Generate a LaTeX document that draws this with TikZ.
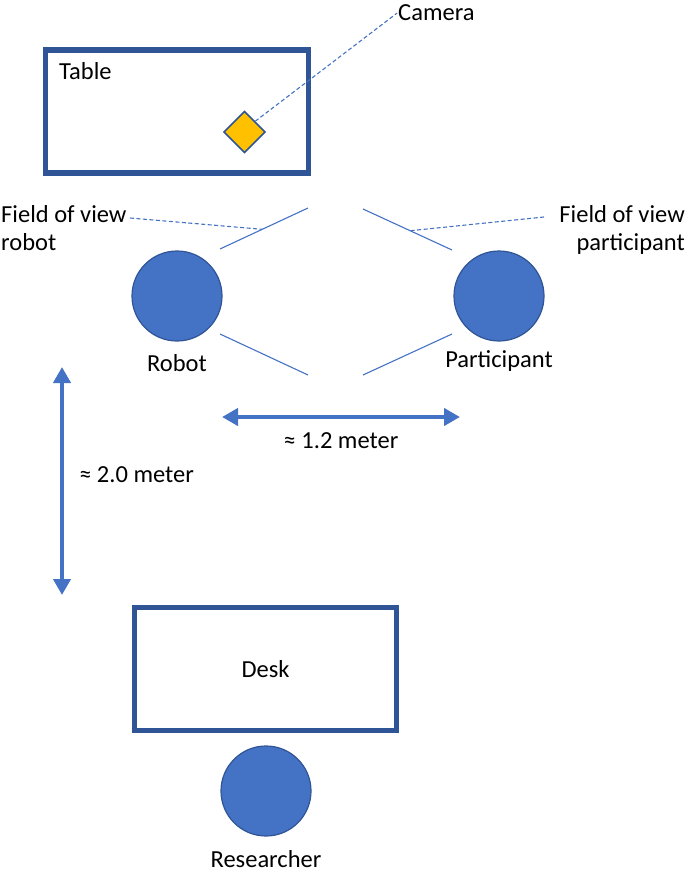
\documentclass[tikz,border=0pt]{standalone}
\usepackage{fontspec}
\setmainfont{Carlito}
\usetikzlibrary{positioning,arrows.meta}
\definecolor{rimblue}{HTML}{2F5597}
\definecolor{fillblue}{HTML}{4472C4}
\definecolor{camgold}{HTML}{FFC000}

\begin{document}
\begin{tikzpicture}[x=1pt, y=-1pt,
    font=\fontsize{24.5}{28}\selectfont,
    furniture/.style={rectangle, draw=rimblue, line width=5.5pt, minimum width=263pt, minimum height=123pt},
    person/.style={circle, draw=rimblue, line width=1.2pt, fill=fillblue, minimum size=90pt, inner sep=0pt},
    caption/.style={inner sep=1pt, text=black},
    view/.style={fillblue, line width=1.1pt},
    leader/.style={fillblue, line width=1.1pt, dash pattern=on 4pt off 2.5pt},
    measure/.style={fillblue, line width=4.5pt, {Triangle[length=16pt,width=17pt]}-{Triangle[length=16pt,width=17pt]}}]
    \useasboundingbox (0,0) rectangle (685,877);

    % table with the camera on it
    \node[furniture] (table) at (177,111.5) {};
    \node[caption, anchor=base west] (tablelabel) at (58,80) {Table};
    \node[draw=rimblue, fill=camgold, line width=1.5pt, rotate=45, minimum size=29pt, inner sep=0pt] (camera) at (244.5,132) {};
    \node[caption, anchor=base west] (cameralabel) at (397,21) {Camera};
    \draw[leader] (camera.east) -- (cameralabel.west);

    % robot and participant
    \node[person] (robot) at (177,296) {};
    \node[person] (participant) at (499,296) {};
    \node[caption, below=12pt of robot] (robotlabel) {Robot};
    \node[caption, below=8pt of participant] (participantlabel) {Participant};

    % fields of view
    \coordinate (rviewA) at (220,249);
    \coordinate (rviewB) at (308,208);
    \coordinate (rviewC) at (220,334);
    \coordinate (rviewD) at (308,375);
    \coordinate (pviewA) at (452,250);
    \coordinate (pviewB) at (363,209);
    \coordinate (pviewC) at (452,334);
    \coordinate (pviewD) at (363,375);
    \draw[view] (rviewA) -- coordinate[pos=0.48] (rviewmark) (rviewB);
    \draw[view] (rviewC) -- (rviewD);
    \draw[view] (pviewA) -- coordinate[pos=0.47] (pviewmark) (pviewB);
    \draw[view] (pviewC) -- (pviewD);

    \node[caption, align=left, anchor=north west] (fovrobotlabel) at (0,204) {Field of view\\robot};
    \node[caption, align=right, anchor=north east] (fovpartlabel) at (686,204) {Field of view\\participant};
    \coordinate (rleadstart) at (130,218);
    \coordinate (pleadstart) at (544,217);
    \draw[leader] (rleadstart) -- (rviewmark);
    \draw[leader] (pleadstart) -- (pviewmark);

    % distances
    \coordinate (hleft) at (222,417);
    \coordinate (hright) at (460,417);
    \draw[measure] (hleft) -- node[caption, below=12pt] (hlabel) {≈ 1.2 meter} (hright);
    \coordinate (vtop) at (62,367);
    \coordinate (vbottom) at (62,595);
    \draw[measure] (vtop) -- node[caption, right=14pt, yshift=6pt] (vlabel) {≈ 2.0 meter} (vbottom);

    % desk and researcher
    \node[furniture, minimum width=262pt] (desk) at (265.5,669) {Desk};
    \node[person] (researcher) at (266,791) {};
    \node[caption, below=13pt of researcher] (researcherlabel) {Researcher};
\end{tikzpicture}
\end{document}
